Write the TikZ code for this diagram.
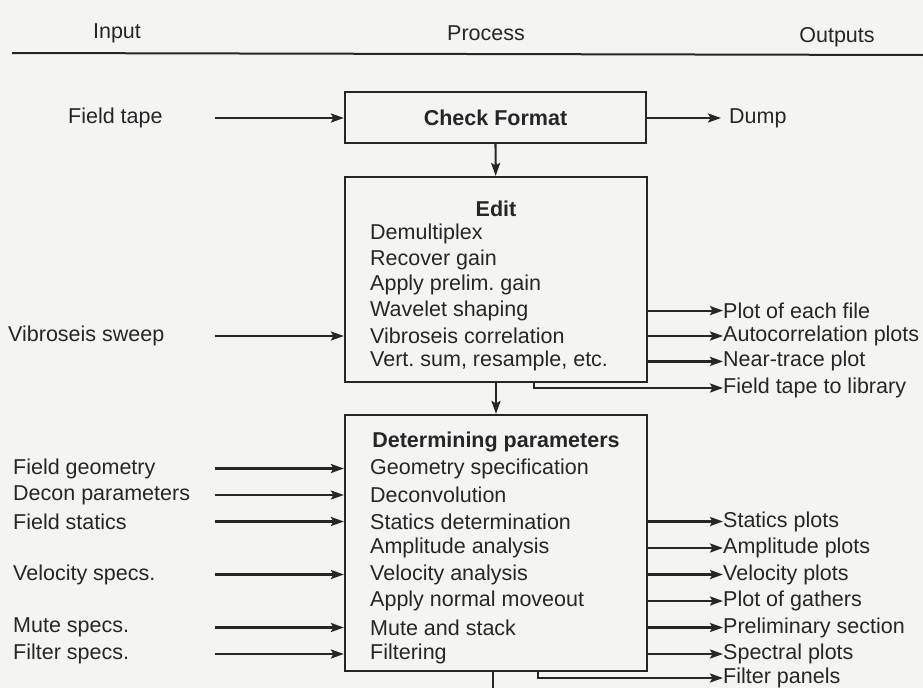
\documentclass[tikz,border=0pt]{standalone}
\usepackage{fontspec}
\setmainfont{Liberation Sans}
\usetikzlibrary{arrows.meta}
\definecolor{paper}{RGB}{244,244,242}
\definecolor{ink}{RGB}{38,38,38}
\frenchspacing
\begin{document}
\begin{tikzpicture}[x=1pt,y=-1pt,
  txt/.style={font=\fontsize{21.5}{25}\selectfont,text=ink,inner sep=0pt},
  btxt/.style={font=\bfseries\fontsize{21.5}{25}\selectfont,text=ink,inner sep=0pt},
  procbox/.style={draw=ink,line width=2.2pt,inner sep=0pt},
  arr/.style={draw=ink,line width=2.2pt,-{Stealth[length=13pt,width=9pt,inset=2.5pt]}},
  link/.style={draw=ink,line width=2pt}]
\fill[paper] (0,0) rectangle (923,688);
\useasboundingbox (0,0) rectangle (923,688);

% header
\node[txt] (hin) at (117,33) {Input};
\node[txt] (hproc) at (486,33) {Process};
\node[txt] (hout) at (837,37) {Outputs};
\coordinate (rulel) at (12,53);
\coordinate (ruler) at (923,55);
\draw[link] (rulel) -- (ruler);

\coordinate (instart) at (215,0);

% check format
\node[procbox,btxt,minimum width=301pt,minimum height=51pt] (check) at (495.5,117.5) {Check Format};
\node[txt,anchor=west] (ftape) at (68,118) {Field tape};
\draw[arr] (instart |- ftape) -- (check.west |- ftape);
\node[txt,anchor=west] (dump) at (729,118) {Dump};
\draw[arr,shorten >=8pt] (check.east |- dump) -- (dump.west);

% edit
\node[procbox,minimum width=302pt,minimum height=205pt] (edit) at (496,279.5) {};
\node[btxt] (editt) at (496,209) {Edit};
\foreach \t [count=\i] in {Demultiplex, Recover gain, Apply prelim. gain, Wavelet shaping, Vibroseis correlation, {Vert. sum, resample, etc.}}
  \node[txt,anchor=west] (edit\i) at (370,{209+25.4*\i}) {\t};
\draw[arr] (check) -- (edit);
\node[txt,anchor=west] (vsweep) at (8,336) {Vibroseis sweep};
\draw[arr] (instart |- edit5) -- (edit.west |- edit5);
\foreach \t/\k in {Plot of each file/4, Autocorrelation plots/5, Near-trace plot/6}{
  \node[txt,anchor=west] (eout\k) at (723,{209+25.4*\k}) {\t};
  \draw[arr] (edit.east |- eout\k) -- (eout\k.west);
}
\node[txt,anchor=west] (ftlib) at (723,388) {Field tape to library};
\coordinate (editdrop) at (534,388);
\draw[arr] (edit.south -| editdrop) -- (editdrop) -- (ftlib.west);

% determining parameters
\node[procbox,minimum width=302pt,minimum height=256pt] (det) at (496,543) {};
\node[btxt] (dett) at (496,442) {Determining parameters};
\foreach \t [count=\i] in {Geometry specification, Deconvolution, Statics determination, Amplitude analysis, Velocity analysis, Apply normal moveout, Mute and stack, Filtering}
  \node[txt,anchor=west] (det\i) at (370,{442+26.5*\i}) {\t};
\draw[arr] (edit) -- (det);
\foreach \t/\k in {Field geometry/1, Decon parameters/2, Field statics/3, Velocity specs./5, Mute specs./7, Filter specs./8}{
  \node[txt,anchor=west] (in\k) at (13,{442+26.5*\k}) {\t};
  \draw[arr] (instart |- in\k) -- (det.west |- in\k);
}
\foreach \t/\k in {Statics plots/3, Amplitude plots/4, Velocity plots/5, Plot of gathers/6, Preliminary section/7, Spectral plots/8}{
  \node[txt,anchor=west] (dout\k) at (723,{442+26.5*\k}) {\t};
  \draw[arr] (det.east |- dout\k) -- (dout\k.west);
}
\node[txt,anchor=west] (fpan) at (723,678) {Filter panels};
\coordinate (detdrop) at (538,678);
\draw[arr] (det.south -| detdrop) -- (detdrop) -- (fpan.west);
\coordinate (tail) at (493,688);
\draw[link] (det.south -| tail) -- (tail);
\end{tikzpicture}
\end{document}
